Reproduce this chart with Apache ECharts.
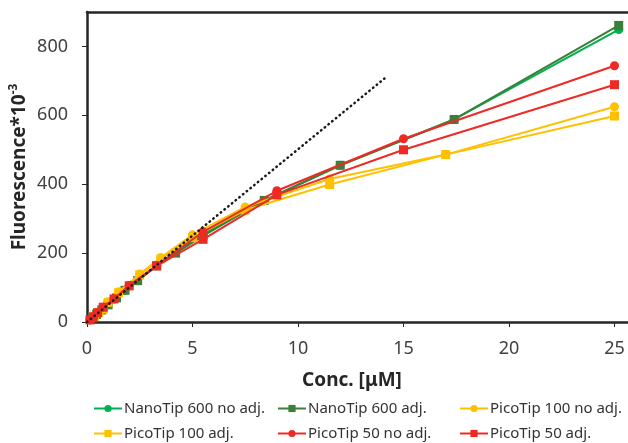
<!DOCTYPE html>
<html>
<head>
<meta charset="utf-8">
<script src="https://cdn.jsdelivr.net/npm/echarts@6/dist/echarts.min.js"></script>
<style>html,body{margin:0;padding:0;background:#fff;}#c{width:628px;height:443px;}</style>
</head>
<body>
<div id="c"></div>
<script>
// ---- data ----
var seriesNames = ['NanoTip 600 no adj.', 'NanoTip 600 adj.', 'PicoTip 100 no adj.', 'PicoTip 100 adj.', 'PicoTip 50 no adj.', 'PicoTip 50 adj.'];
var nanoX = [0.25, 0.45, 0.7, 1.0, 1.4, 1.8, 2.4, 3.3, 4.2, 5.5, 8.4, 12, 17.4, 25.2];
var nanoNoAdjY = [12, 22, 35, 50, 70, 92, 120, 163, 203, 255, 352, 455, 588, 849];
var nanoAdjY = [12, 22, 35, 50, 70, 92, 120, 163, 200, 250, 353, 455, 588, 861];
var picoX = [0.35, 0.55, 0.78, 1.0, 1.5, 2.5, 3.5, 5.0, 7.5, 11.5, 17, 25];
var pico100NoAdjY = [17, 27, 38, 59, 88, 139, 187, 253, 334, 415, 486, 625];
var pico100AdjY = [17, 27, 38, 57, 85, 137, 183, 245, 325, 399, 486, 598];
var pico50X = [0.14, 0.3, 0.5, 0.77, 1.28, 2.0, 3.3, 5.5, 9, 15, 25];
var pico50NoAdjY = [6, 15, 27, 43, 67, 106, 164, 262, 381, 532, 744];
var pico50AdjY = [6, 15, 27, 43, 67, 105, 163, 240, 369, 500, 689];
var dottedX = [0, 14.1];
var dottedY = [0, 707];
var xTicks = [0, 5, 10, 15, 20, 25];
var yTicks = [0, 200, 400, 600, 800];

function pairs(xs, ys) { return xs.map(function (x, i) { return [x, ys[i]]; }); }

var colors = ['#00B050', '#3A7F3A', '#FFC000', '#FFC000', '#EE2A24', '#EE2A24'];
var symbols = ['circle', 'rect', 'circle', 'rect', 'circle', 'rect'];
var datas = [
  pairs(nanoX, nanoNoAdjY), pairs(nanoX, nanoAdjY),
  pairs(picoX, pico100NoAdjY), pairs(picoX, pico100AdjY),
  pairs(pico50X, pico50NoAdjY), pairs(pico50X, pico50AdjY)
];
var font = 'Noto Sans';
var series = seriesNames.map(function (n, i) {
  return {
    name: n, type: 'line', data: datas[i], symbol: symbols[i], symbolSize: 9,
    showAllSymbol: true, z: 2 + i,
    lineStyle: { color: colors[i], width: 2 },
    itemStyle: { color: colors[i], borderWidth: 0 },
    emphasis: { disabled: true }, animation: false
  };
});
series.push({
  name: 'trend', type: 'line', data: pairs(dottedX, dottedY), symbol: 'none', z: 20,
  lineStyle: { color: '#1a1a1a', width: 2.5, type: [0.5, 4.3], cap: 'round' },
  animation: false, silent: true
});

var legendPos = [[93, 401], [277, 401], [459, 401], [93, 426], [277, 426], [459, 426]];
var legends = seriesNames.map(function (n, i) {
  return {
    data: [n], left: legendPos[i][0], top: legendPos[i][1], itemWidth: 28, itemHeight: 9,
    itemGap: 0, selectedMode: false, padding: 0,
    textStyle: { fontFamily: font, fontSize: 15, color: '#333333', padding: [0, 0, 0, -3] }
  };
});

var axisColor = '#262626';
var chart = echarts.init(document.getElementById('c'), null, { renderer: 'canvas' });
chart.setOption({
  animation: false,
  backgroundColor: '#fff',
  grid: { left: 87, top: 12, right: 0, bottom: 121, containLabel: false, outerBoundsMode: 'none' },
  title: {
    text: 'Conc. [μM]', left: 352, top: 371, textAlign: 'center', padding: 0,
    textStyle: { fontFamily: font, fontSize: 19, fontWeight: 'bold', color: axisColor }
  },
  legend: legends,
  xAxis: [{
    type: 'value', min: 0, max: 25.64, interval: 5,
    axisLine: { onZero: false, lineStyle: { color: axisColor, width: 2.5 } },
    axisTick: { show: true, length: 5, customValues: xTicks, lineStyle: { color: axisColor, width: 1 } },
    axisLabel: { customValues: xTicks, margin: 18, fontFamily: font, fontSize: 18, color: '#404040' },
    splitLine: { show: false }
  }, {
    type: 'value', position: 'top', min: 0, max: 25.64,
    axisLine: { show: true, onZero: false, lineStyle: { color: axisColor, width: 2.5 } },
    axisTick: { show: false }, axisLabel: { show: false }, splitLine: { show: false }
  }],
  yAxis: {
    type: 'value', min: 0, max: 900, interval: 100,
    name: 'Fluorescence*10{sup|-3}', nameLocation: 'middle', nameGap: 55, nameRotate: 90,
    nameMoveOverlap: false,
    nameTextStyle: {
      fontFamily: font, fontSize: 19, fontWeight: 'bold', color: axisColor, lineHeight: 24,
      padding: [0, 0, 0, 0],
      rich: { sup: { fontFamily: font, fontSize: 12, fontWeight: 'bold', color: axisColor, verticalAlign: 'top', lineHeight: 24, padding: [0, 0, 10, 0] } }
    },
    axisLine: { onZero: false, lineStyle: { color: axisColor, width: 2.5 } },
    axisTick: { show: true, length: 5, customValues: yTicks, lineStyle: { color: axisColor, width: 1 } },
    axisLabel: { customValues: yTicks, margin: 19, fontFamily: font, fontSize: 18, color: '#404040' },
    splitLine: { show: false }
  },
  series: series
});
</script>
</body>
</html>
